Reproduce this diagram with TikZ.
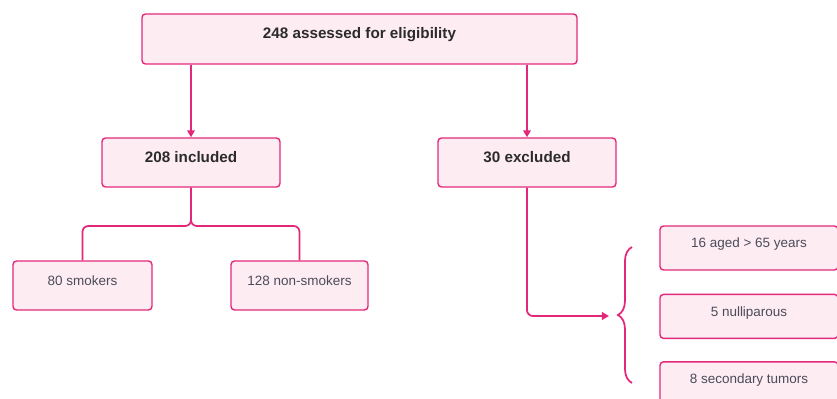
\documentclass[tikz,border=0pt]{standalone}
\usepackage{fontspec}
\setmainfont{Liberation Sans}
\usetikzlibrary{positioning, arrows.meta, decorations.pathreplacing}
\definecolor{rosered}{HTML}{E3287B}
\definecolor{blush}{HTML}{FDEDF3}
\definecolor{inkdark}{HTML}{2B2B2B}
\definecolor{inkgray}{HTML}{4B4B5A}

\begin{document}
\begin{tikzpicture}[
  x=0.03cm, y=-0.03cm,
  box/.style={
    draw=rosered,
    fill=blush,
    line width=1.2pt,
    rounded corners=3pt,
    text=inkgray,
    font=\fontsize{11.5}{13}\selectfont,
    text height=8pt,
    text depth=8pt,
    minimum width=5.34cm,
    minimum height=1.47cm
  },
  headbox/.style={
    box,
    text=inkdark,
    font=\fontsize{13}{15}\selectfont\bfseries
  },
  flow/.style={
    draw=rosered,
    line width=1.5pt,
    rounded corners=5pt
  },
  flow arrow/.style={
    flow,
    -{Triangle[length=6pt,width=6.5pt]}
  }
]
\useasboundingbox (0,0) rectangle (837,399);

\node(n248)[headbox, minimum width=13.05cm, minimum height=1.5cm] at (359.5,39) {248 assessed for eligibility};

\node(n208)[headbox] at (191,162.5) {208 included};
\node(n30)[headbox] at (527,162.5) {30 excluded};

\node(n80)[box, minimum width=4.17cm] at (82.5,285.5) {80 smokers};
\node(n128)[box, minimum width=4.11cm] at (299.5,285.5) {128 non-smokers};

\node(n16)[box, minimum height=1.32cm] at (749,248) {16 aged > 65 years};
\node(n5)[box, minimum height=1.32cm, below=0.69cm of n16] {5 nulliparous};
\node(n8)[box, minimum height=1.32cm, below=0.66cm of n5] {8 secondary tumors};

\coordinate (split) at (191,226);
\coordinate (bracein) at (609,316);

% arrows from the top box
\draw[flow arrow] (n248.south -| n208.north) -- (n208.north);
\draw[flow arrow] (n248.south -| n30.north) -- (n30.north);

% included splits into two groups
\draw[flow] (n208.south) -- (split) -| (n80.north);
\draw[flow] (n208.south) -- (split) -| (n128.north);

% excluded goes to the reasons
\draw[flow arrow] (n30.south) |- (bracein);
\draw[draw=rosered, line width=1.5pt, decorate, decoration={brace, amplitude=12pt}]
  (632,383) -- (632,247);

\end{tikzpicture}
\end{document}
